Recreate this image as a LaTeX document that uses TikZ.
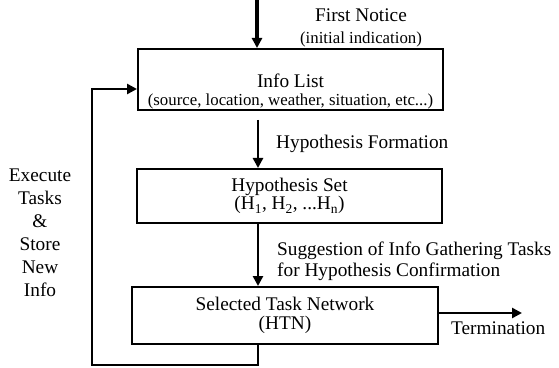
\documentclass[tikz,border=0pt]{standalone}
\usepackage{fontspec}
\setmainfont{Liberation Serif}
\usepackage{tikz}
\usetikzlibrary{arrows.meta}
\newcommand{\bigtext}{\fontsize{19.3}{22}\selectfont}
\newcommand{\smalltext}{\fontsize{16.8}{18}\selectfont}
\tikzstyle{box}=[draw, line width=2pt, inner sep=0pt, align=center, font=\bigtext]
\tikzstyle{plaintext}=[inner sep=0pt, font=\bigtext]
\tikzstyle{flow}=[line width=2.5pt, -{Triangle[length=10pt,width=10pt]}]

\begin{document}
\begin{tikzpicture}[x=1pt,y=1pt]
		   \useasboundingbox (0,0) rectangle (559,367);
		   \begin{scope}
			   \node (info) at (290.5, 287.5)[box, minimum width=305, minimum height=61] {};
			   \node (infotext) at (290.5, 275.7)[plaintext, align=center] {Info List\\[-4.3pt]{\smalltext (source, location, weather, situation, etc...)}};
			   \node (hyp) at (289.5, 171)[box, minimum width=305, minimum height=54] {Hypothesis Set\\[-3.5pt](H\textsubscript{1}, H\textsubscript{2}, ...H\textsubscript{n})};
			   \node (htn) at (285, 51.5)[box, minimum width=306, minimum height=57] {Selected Task Network\\[-3.5pt](HTN)};
			   \node (notice) at (361, 339)[plaintext, align=center] {First Notice\\{\smalltext (initial indication)}};
			   \node (formation) at (276, 223.2)[plaintext, anchor=west] {Hypothesis Formation};
			   \node (suggest) at (277, 105.7)[plaintext, anchor=west, align=left] {Suggestion of Info Gathering Tasks\\[-0.3pt]for Hypothesis Confirmation};
			   \node (termination) at (451, 38.6)[plaintext, anchor=west] {Termination};
			   \node (execute) at (40, 134.2)[plaintext, align=center] {Execute\\[1pt]Tasks\\[1pt]\&\\[1pt]Store\\[1pt]New\\[1pt]Info};
			   \coordinate (start) at (257, 367);
			   \coordinate (down) at (258, 247);
			   \coordinate (stop) at (522, 54);
			   \coordinate (loop) at (92, 2);
			   \coordinate (back) at (92, 278);
		   \end{scope}
		   \begin{scope}
			   \draw [flow, line width=4pt] (start) -- (start |- info.north);
			   \draw [flow] (down) -- (down |- hyp.north);
			   \draw [flow] (down |- hyp.south) -- (down |- htn.north);
			   \draw [flow] (stop -| htn.east) -- (stop);
			   \draw [flow] (down |- htn.south) |- (loop) -- (back) -- (back -| info.west);
		   \end{scope}
	   \end{tikzpicture}
\end{document}
